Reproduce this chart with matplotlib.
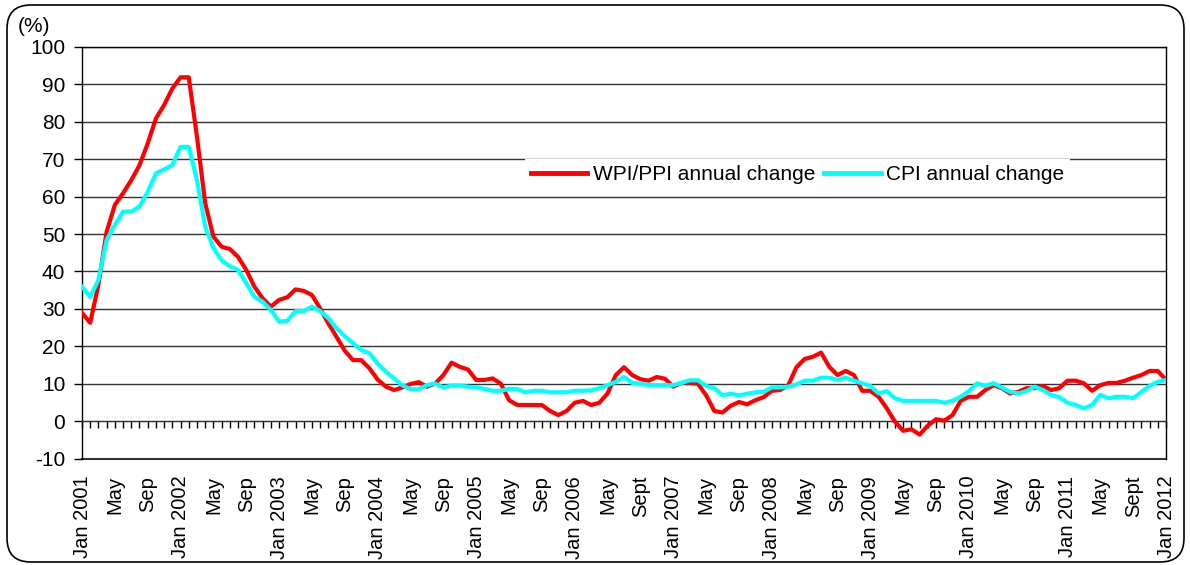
import numpy as np
import matplotlib
matplotlib.use('Agg')
import matplotlib.pyplot as plt
from matplotlib.patches import FancyBboxPatch
from matplotlib.ticker import MultipleLocator

plt.rcParams['font.family'] = ['Liberation Sans', 'DejaVu Sans']
plt.rcParams['axes.unicode_minus'] = False

# monthly values, Jan 2001 .. Jan 2012
wpi = [28.9, 26.3, 36.5, 50.6, 57.8, 60.9, 64.4, 68.4, 74.2, 80.9, 84.5, 88.9,
       91.9, 91.9, 76.0, 58.3, 49.3, 46.6, 46.0, 43.9, 40.4, 35.9, 32.8, 30.6,
       32.4, 33.1, 35.2, 34.8, 33.7, 30.1, 26.1, 22.5, 18.8, 16.3, 16.3, 14.1,
       11.1, 9.2, 8.3, 9.0, 9.9, 10.4, 9.2, 10.0, 12.3, 15.6, 14.5, 13.8,
       11.0, 11.0, 11.4, 10.0, 5.6, 4.3, 4.3, 4.3, 4.3, 2.7, 1.6, 2.7,
       4.9, 5.4, 4.3, 4.9, 7.4, 12.3, 14.4, 12.3, 11.2, 10.8, 11.8, 11.3,
       9.2, 10.2, 10.2, 10.0, 6.9, 2.7, 2.3, 4.1, 5.1, 4.5, 5.6, 6.4,
       8.1, 8.3, 9.6, 14.4, 16.6, 17.2, 18.3, 14.5, 12.3, 13.4, 12.3, 8.1,
       8.1, 6.5, 3.4, -0.2, -2.6, -2.2, -3.6, -1.2, 0.5, 0.1, 1.6, 5.4,
       6.5, 6.5, 8.3, 9.6, 8.8, 7.4, 7.8, 8.8, 8.8, 9.4, 8.3, 8.8,
       10.8, 10.8, 10.1, 8.1, 9.6, 10.2, 10.2, 10.8, 11.6, 12.3, 13.4, 13.4,
       11.0]
cpi = [35.9, 33.2, 37.7, 48.4, 52.4, 56.0, 56.0, 57.3, 61.3, 66.2, 67.3, 68.4,
       73.3, 73.3, 64.4, 52.0, 46.3, 43.0, 41.4, 40.4, 36.9, 33.2, 31.9, 29.7,
       26.6, 26.8, 29.4, 29.4, 30.6, 29.4, 27.5, 24.8, 22.7, 20.8, 19.0, 18.1,
       15.4, 13.2, 11.4, 9.6, 8.5, 8.5, 9.6, 10.0, 9.0, 9.5, 9.5, 9.2,
       9.0, 8.6, 8.1, 8.1, 8.6, 8.6, 7.7, 8.1, 8.1, 7.7, 7.7, 7.7,
       8.1, 8.1, 8.2, 8.8, 9.6, 10.5, 11.8, 10.2, 10.0, 9.6, 9.6, 9.6,
       9.6, 10.2, 10.9, 10.9, 9.4, 8.8, 6.9, 7.3, 6.9, 7.3, 7.7, 7.8,
       9.0, 9.0, 9.2, 9.8, 10.8, 10.8, 11.6, 11.6, 11.0, 11.6, 10.8, 10.1,
       9.4, 7.4, 8.0, 6.1, 5.4, 5.4, 5.4, 5.4, 5.4, 4.9, 5.4, 6.5,
       8.0, 10.1, 9.4, 10.1, 9.0, 7.8, 7.4, 8.0, 9.2, 8.3, 7.0, 6.4,
       4.9, 4.3, 3.4, 4.3, 7.0, 6.1, 6.5, 6.5, 6.1, 7.8, 9.4, 10.5,
       11.0]

tick_labels = ['Jan 2001', 'May', 'Sep', 'Jan 2002', 'May', 'Sep', 'Jan 2003', 'May', 'Sep',
               'Jan 2004', 'May', 'Sep', 'Jan 2005', 'May', 'Sep', 'Jan 2006', 'May', 'Sept',
               'Jan 2007', 'May', 'Sep', 'Jan 2008', 'May', 'Sep', 'Jan 2009', 'May', 'Sep',
               'Jan 2010', 'May', 'Sep', 'Jan 2011', 'May', 'Sept', 'Jan 2012']

months = np.arange(len(wpi))
fs = 15

fig = plt.figure(figsize=(11.9, 5.65), dpi=100)
ax = fig.add_axes([82 / 1190, 1 - 458.5 / 565, 1084 / 1190, 411.5 / 565])

# rounded frame around the whole chart
frame = FancyBboxPatch((7 / 1190, 3 / 565), 1177 / 1190, 557 / 565,
                       boxstyle='round,pad=0,rounding_size=0.02',
                       mutation_aspect=1190 / 565, transform=fig.transFigure,
                       facecolor='none', edgecolor='black', lw=1.2)
fig.patches.append(frame)

ax.plot(months, wpi, color='#ff0000', lw=3, label='WPI/PPI annual change', zorder=3)
ax.plot(months, cpi, color='#00ffff', lw=3, label='CPI annual change', zorder=3)

ax.set_xlim(0, len(wpi) - 1)
ax.set_ylim(-10, 100)
ax.set_yticks(np.arange(-10, 101, 10))
ax.yaxis.grid(True, color='#333333', lw=1)
ax.set_axisbelow(True)
ax.tick_params(axis='y', direction='out', length=6, width=1, pad=6, labelsize=fs)

# month ticks on the zero line
ax.spines['bottom'].set_position(('data', 0))
ax.spines['bottom'].set_color('#333333')
ax.xaxis.set_major_locator(MultipleLocator(1))
ax.tick_params(axis='x', direction='out', length=5, width=1, labelbottom=False)
for s in ['left', 'right', 'top']:
    ax.spines[s].set_color('black')
    ax.spines[s].set_linewidth(1)

sec = ax.secondary_xaxis(0.0)
sec.set_xticks(months[::4], tick_labels)
sec.tick_params(length=0, pad=12.5, labelsize=14.5, labelrotation=90)
sec.spines['bottom'].set_color('#333333')
sec.spines['bottom'].set_linewidth(1.5)

leg = ax.legend(loc='center', bbox_to_anchor=(0.66, 0.689), ncol=2, fontsize=fs,
                frameon=True, framealpha=1, edgecolor='none', fancybox=False,
                handlelength=2.7, handletextpad=0.25, columnspacing=0.45,
                borderpad=0.3)
leg.get_frame().set_linewidth(0)
for h in leg.get_lines():
    h.set_linewidth(3.5)

fig.text(18 / 1190, 1 - 27 / 565, '(%)', fontsize=fs, va='center', ha='left')

fig.savefig('out.png', dpi=100)
